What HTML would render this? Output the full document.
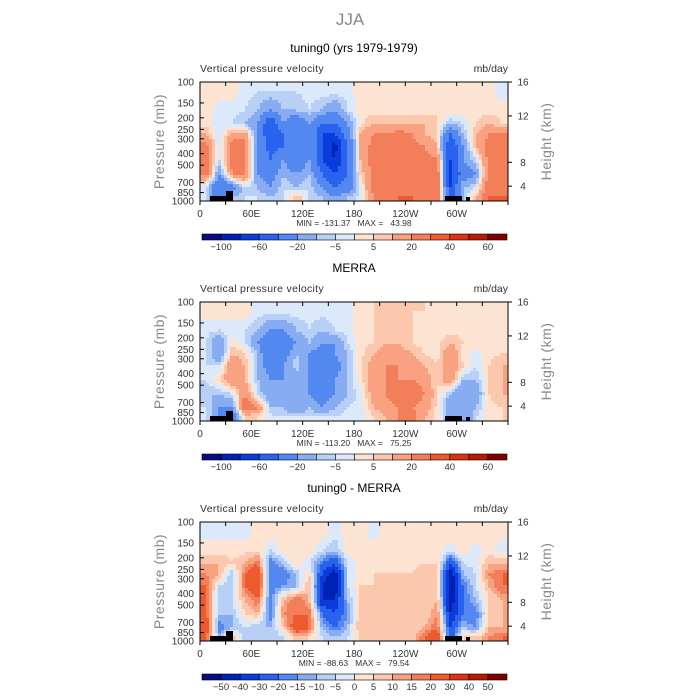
<!DOCTYPE html>
<html><head><meta charset="utf-8">
<style>
body{margin:0;background:#fff;}
svg{display:block;font-family:"Liberation Sans",sans-serif;}
</style></head>
<body>
<svg id="chart" width="700" height="700" viewBox="0 0 700 700">
<text x="350" y="25" text-anchor="middle" font-size="17" fill="#888">JJA</text>
</svg>
<script>
const pressureLevels=[100,150,200,250,300,400,500,700,850,1000];
const lonTicks=[0,60,120,180,240,300];
const lonLabels=["0","60E","120E","180","120W","60W"];
const heightTicks=[16,12,8,4];
const heightPositions=[0,0.285,0.675,0.875];
const colors=["#0a0a82","#0022b4","#0a3cdc","#2a62f0","#5288f0","#88acf2","#b8cff6","#dce9fb","#fde3d2","#fbc8ae","#f8a282","#f27e5a","#ee5a30","#dc3212","#b81a04","#800000"];
const boundsFull=[-100,-80,-60,-40,-20,-10,-5,0,5,10,20,30,40,50,60];
const labelsFull=["-100","","-60","","-20","","-5","","5","","20","","40","","60"];
const boundsDiff=[-50,-40,-30,-20,-15,-10,-5,0,5,10,15,20,30,40,50];
const labelsDiff=["-50","-40","-30","-20","-15","-10","-5","0","5","10","15","20","30","40","50"];
const modelValues=[
[3,3,3,10,25,25,25,-5,-5],[3,-3,-5,-5,-5,-5,-20,-40,-30],[3,-3,-5,15,25,25,20,-30,-10],[-3,-5,-10,15,25,25,25,-5,-5],
[-5,-10,-20,-20,-20,-20,-20,-10,-5],[-5,-20,-60,-60,-50,-40,-30,-20,-10],[-5,-10,-20,-40,-40,-20,-10,-5,-5],[-5,-10,-40,-40,-40,-40,-20,-10,10],
[-3,-5,-20,-20,-20,-20,-10,-5,-5],[-3,-10,-40,-60,-60,-60,-40,-20,-10],[-3,-20,-40,-60,-90,-80,-60,-40,-20],[-3,-5,-20,-30,-40,-40,-40,-30,-10],
[3,3,3,10,10,10,5,-3,-3],[3,3,10,20,25,25,25,25,20],[3,3,10,20,25,25,25,25,25],[3,3,10,25,30,25,25,25,30],
[3,3,10,20,25,30,25,25,30],[3,3,10,10,20,25,25,25,25],[3,5,5,5,10,20,30,30,30],[3,5,-10,-40,-60,-60,-70,-60,-50],
[3,3,-5,-10,-20,-20,-30,-10,-10],[3,3,5,10,10,-5,-20,-5,10],[3,3,10,20,25,25,25,30,30],[-3,3,5,20,25,25,25,25,30]];
const merraValues=[
[3,-3,-5,-5,-5,-5,-10,-5,-5],[3,-5,-20,-20,-5,5,-10,-20,-20],[3,-3,5,10,20,20,-5,-20,-30],[3,-5,-3,5,10,10,20,30,5],
[-3,-10,-20,-10,-10,-10,-5,20,5],[-3,-20,-40,-40,-30,-20,-20,-10,-3],[-3,-20,-30,-30,-20,-20,-20,-10,-5],[-3,-10,-20,-10,-5,-20,-20,-20,-5],
[-3,-5,-10,-20,-20,-20,-20,-10,-5],[-3,-10,-20,-30,-40,-40,-30,-20,-5],[-3,-5,-20,-20,-30,-20,-20,-10,-5],[-3,-3,-5,-10,-10,-10,-10,-5,-3],
[3,3,3,3,3,3,-3,-3,-3],[5,5,5,10,15,15,15,10,5],[5,5,10,15,20,20,20,15,10],[5,5,10,15,20,20,30,20,20],
[5,5,5,10,15,20,30,20,25],[5,3,3,5,10,15,20,15,10],[3,3,3,3,5,5,5,3,3],[3,3,10,20,20,20,-10,-20,-20],
[3,3,5,3,5,-10,-20,-20,-20],[3,3,3,-3,-5,-10,-20,-10,-5],[3,3,3,3,5,5,5,3,3],[3,3,3,5,10,10,10,5,5]];
const diffValues=[
[-3,3,10,15,20,20,20,30,20],[-3,3,10,10,-5,-10,-10,-20,-10],[-3,3,5,-10,-10,-5,-10,-10,10],[-3,3,10,20,20,10,5,-5,-10],
[3,5,20,30,30,20,10,-10,-10],[3,-5,-20,-20,-20,-20,-20,-10,-10],[3,3,-10,-20,-15,10,15,5,-5],[3,5,5,-10,-10,20,20,30,10],
[3,3,-5,5,10,10,20,20,5],[3,-5,-20,-30,-40,-40,-20,-10,-5],[-3,-10,-30,-50,-50,-40,-30,-20,-10],[3,3,-5,-5,-5,-10,-15,-10,-5],
[3,3,3,3,5,5,10,10,5],[-3,3,5,5,5,5,5,10,5],[3,3,3,5,5,5,5,5,10],[3,3,5,5,5,5,5,5,5],
[3,3,3,5,5,10,5,5,5],[3,3,5,10,10,5,5,10,20],[3,3,5,5,5,10,15,20,30],[3,-3,-30,-50,-50,-50,-40,-30,-30],
[3,3,-5,-10,-20,-20,-20,-10,5],[3,-3,-3,-5,-5,-10,-20,-15,5],[3,3,10,15,10,5,5,10,15],[3,-3,10,20,20,10,10,10,20]];
const panelTitles=["tuning0 (yrs 1979-1979)","MERRA","tuning0 - MERRA"];
const minMaxTexts=["MIN = -131.37   MAX =   43.98","MIN = -113.20   MAX =   75.25","MIN = -88.63   MAX =   79.54"];

const NS="http://www.w3.org/2000/svg";
const svg=document.getElementById('chart');
function mk(tag,attrs,parent){const e=document.createElementNS(NS,tag);for(const k in attrs)e.setAttribute(k,attrs[k]);(parent||svg).appendChild(e);return e;}
const X0=200,X1=508,H=119;
function xScale(lon){return X0+(X1-X0)*lon/360;}
function colorFor(v,b){let i=0;while(i<b.length&&v>=b[i])i++;return colors[i];}

// bilinear sampling of the data grid for display (cell centers)
function sample(data,lon,lp){
  const nc=data.length, nr=pressureLevels.length-1;
  let cf=lon/(360/nc)-0.5; cf=Math.max(0,Math.min(nc-1,cf));
  const c0=Math.floor(cf), c1=Math.min(nc-1,c0+1), tc=cf-c0;
  const centers=[];for(let r=0;r<nr;r++)centers.push((Math.log(pressureLevels[r])+Math.log(pressureLevels[r+1]))/2);
  let r0=0;
  if(lp<=centers[0]){r0=0;var tr=0;}
  else if(lp>=centers[nr-1]){r0=nr-2;var tr=1;}
  else{while(r0<nr-2&&lp>centers[r0+1])r0++;var tr=(lp-centers[r0])/(centers[r0+1]-centers[r0]);}
  const r1=r0+1;
  const a=data[c0][r0]*(1-tc)+data[c1][r0]*tc;
  const b=data[c0][r1]*(1-tc)+data[c1][r1]*tc;
  return a*(1-tr)+b*tr;
}

function panel(k,data,bounds,blabels){
  const dy=k*220, top=82+dy, bot=top+H;
  const yScale=p=>top+H*Math.log(p/100)/Math.log(10);
  const g=mk('g',{});
  
  
  const t=mk('text',{x:354,y:52+dy,'text-anchor':'middle','font-size':12,fill:'#000'},g);t.textContent=panelTitles[k];
  
  const l=mk('text',{x:200,y:72+dy,'font-size':10.5,fill:'#333','letter-spacing':'0.3'},g);l.textContent="Vertical pressure velocity";
  
  const u=mk('text',{x:508,y:72+dy,'text-anchor':'end','font-size':10.5,fill:'#333'},g);u.textContent="mb/day";
  
  const step=3;
  for(let px=X0;px<X1;px+=step){
    const lon=(px+step/2-X0)/(X1-X0)*360;
    for(let py=top;py<bot;py+=step){
      const lp=Math.log(100)+((py+step/2-top)/H)*Math.log(10);
      const v=sample(data,lon,lp);
      const r=mk('rect',{x:px,y:py,width:Math.min(step,X1-px)+0.4,height:Math.min(step,bot-py)+0.4,fill:colorFor(v,bounds)},g);
      
      
    }
  }
  [[210,233,bot-5],[226,233,bot-10],[445,462,bot-5],[466,470,bot-4]].forEach(a=>{
    const r=mk('rect',{x:a[0],y:a[2],width:a[1]-a[0],height:bot-a[2],fill:'#000'},g);
    
  });
  const f=mk('rect',{x:X0,y:top,width:X1-X0,height:H,fill:'none',stroke:'#000','stroke-width':1},g);
  
  pressureLevels.forEach(p=>{
    const y=yScale(p);
    mk('line',{x1:X0,x2:X0+4,y1:y,y2:y,stroke:'#000'},g);
    const tx=mk('text',{x:194,y:y+3.5,'text-anchor':'end','font-size':10,fill:'#333'},g);tx.textContent=p;
    
  });
  heightTicks.forEach((h,i)=>{
    const y=top+H*heightPositions[i];
    mk('line',{x1:X1,x2:X1+4,y1:y,y2:y,stroke:'#000'},g);
    const tx=mk('text',{x:523,y:y+3.5,'text-anchor':'middle','font-size':10,fill:'#333'},g);tx.textContent=h;
    
  });
  for(let lon=0;lon<=360;lon+=30){const x=xScale(lon);mk('line',{x1:x,x2:x,y1:bot,y2:bot+4,stroke:'#000'},g);mk('line',{x1:x,x2:x,y1:top,y2:top+4,stroke:'#000'},g);}
  lonTicks.forEach((lon,i)=>{
    const tx=mk('text',{x:xScale(lon),y:bot+16,'text-anchor':'middle','font-size':10,fill:'#333'},g);tx.textContent=lonLabels[i];
    
  });
  const mm=mk('text',{x:354,y:bot+25,'text-anchor':'middle','font-size':8.5,fill:'#333',style:'white-space:pre'},g);mm.textContent=minMaxTexts[k];
  mm.setAttribute('xml:space','preserve');
  
  const ya=mk('text',{x:0,y:0,'text-anchor':'middle','font-size':14,fill:'#888',transform:`translate(164,${top+H/2}) rotate(-90)`,'letter-spacing':'0.5'},g);ya.textContent="Pressure (mb)";
  
  const ya2=mk('text',{x:0,y:0,'text-anchor':'middle','font-size':14,fill:'#888',transform:`translate(551,${top+H/2}) rotate(-90)`,'letter-spacing':'0.5'},g);ya2.textContent="Height (km)";
  
  const cb=mk('g',{},g);
  
  const cx0=202,cw=305/16,cy=bot+33;
  colors.forEach((c,i)=>{const r=mk('rect',{x:cx0+i*cw,y:cy,width:cw,height:6,fill:c,stroke:'#000','stroke-width':0.6},cb);
    });
  blabels.forEach((s,i)=>{if(!s)return;const tx=mk('text',{x:cx0+(i+1)*cw,y:cy+16,'text-anchor':'middle','font-size':9.5,fill:'#333'},cb);tx.textContent=s.replace('-','\u2212');
    });
}
panel(0,modelValues,boundsFull,labelsFull);
panel(1,merraValues,boundsFull,labelsFull);
panel(2,diffValues,boundsDiff,labelsDiff);
</script>
</body></html>
